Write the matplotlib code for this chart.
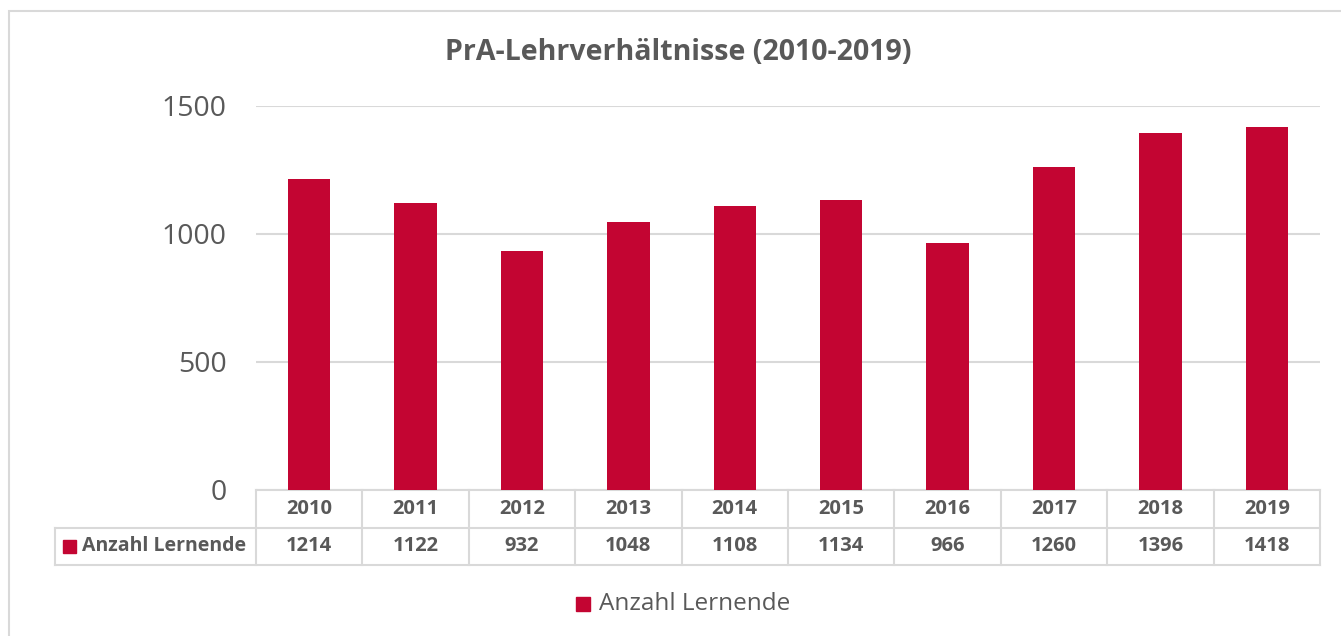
import matplotlib.pyplot as plt
from matplotlib.patches import Rectangle
from matplotlib.lines import Line2D

# Daten
jahre = ['2010', '2011', '2012', '2013', '2014', '2015', '2016', '2017', '2018', '2019']
lernende = [1214, 1122, 932, 1048, 1108, 1134, 966, 1260, 1396, 1418]
serie = 'Anzahl Lernende'
titel = 'PrA-Lehrverhältnisse (2010-2019)'

rot = '#C30532'
grau_text = '#595959'
grau_linie = '#D9D9D9'

plt.rcParams['font.family'] = ['Open Sans', 'DejaVu Sans']

W, H = 1341, 636
fig = plt.figure(figsize=(W / 100, H / 100), dpi=100)

# Rahmen des Diagrammbereichs
fig.patches.append(Rectangle((9 / W, -0.1), 1.2, 1 - 11 / H + 0.1, transform=fig.transFigure,
                             fill=False, edgecolor=grau_linie, linewidth=1.5))

x0, x1 = 256, 1320
ax = fig.add_axes([x0 / W, 1 - 490 / H, (x1 - x0) / W, (490 - 106) / H])
x = list(range(len(jahre)))
ax.bar(x, lernende, width=0.40, color=rot, zorder=3)
ax.set_xlim(-0.5, len(jahre) - 0.5)
ax.set_ylim(0, 1500)
ax.set_yticks([0, 500, 1000, 1500])
ax.tick_params(axis='y', length=0, pad=21, labelsize=20.5, labelcolor=grau_text)
ax.set_xticks([])
for s in ax.spines.values():
    s.set_visible(False)
ax.yaxis.grid(True, color=grau_linie, linewidth=1.5, zorder=0)

fig.text(678 / W, 1 - 52 / H, titel, ha='center', va='center', fontsize=20.5,
         fontweight='bold', color=grau_text)

# Datentabelle unter der Achse
trans = ax.get_xaxis_transform()
rh = 37.5 / (490 - 106)
lw = 1.5
spalte = (x1 - x0) / len(jahre)
links = -0.5 - (x0 - 55) / spalte
n = len(jahre)
kw = dict(transform=trans, clip_on=False, color=grau_linie, linewidth=lw)
ax.add_line(Line2D([-0.5, n - 0.5], [0, 0], **kw))
ax.add_line(Line2D([links, n - 0.5], [-rh, -rh], **kw))
ax.add_line(Line2D([links, n - 0.5], [-2 * rh, -2 * rh], **kw))
ax.add_line(Line2D([links, links], [-rh, -2 * rh], **kw))
for i in range(n + 1):
    ax.add_line(Line2D([i - 0.5, i - 0.5], [0, -2 * rh], **kw))
for i in x:
    ax.text(i, -0.5 * rh, jahre[i], transform=trans, ha='center', va='center',
            fontsize=14.5, fontweight='bold', color=grau_text)
    ax.text(i, -1.5 * rh, str(lernende[i]), transform=trans, ha='center', va='center',
            fontsize=14.5, fontweight='bold', color=grau_text)
ax.add_patch(Rectangle(((63 - x0) / spalte - 0.5, -1.5 * rh - 0.017), 13 / spalte, 0.034,
                       transform=trans, color=rot, clip_on=False))
ax.text((82 - x0) / spalte - 0.5, -1.5 * rh, serie, transform=trans, ha='left', va='center',
        fontsize=14, fontweight='bold', color=grau_text)

# Legende
fig.patches.append(Rectangle((576 / W, 1 - 611 / H), 14 / W, 14 / H, transform=fig.transFigure,
                             color=rot))
fig.text(599 / W, 1 - 604 / H, serie, ha='left', va='center', fontsize=17.5, color=grau_text)

fig.savefig('out.png', dpi=100)
